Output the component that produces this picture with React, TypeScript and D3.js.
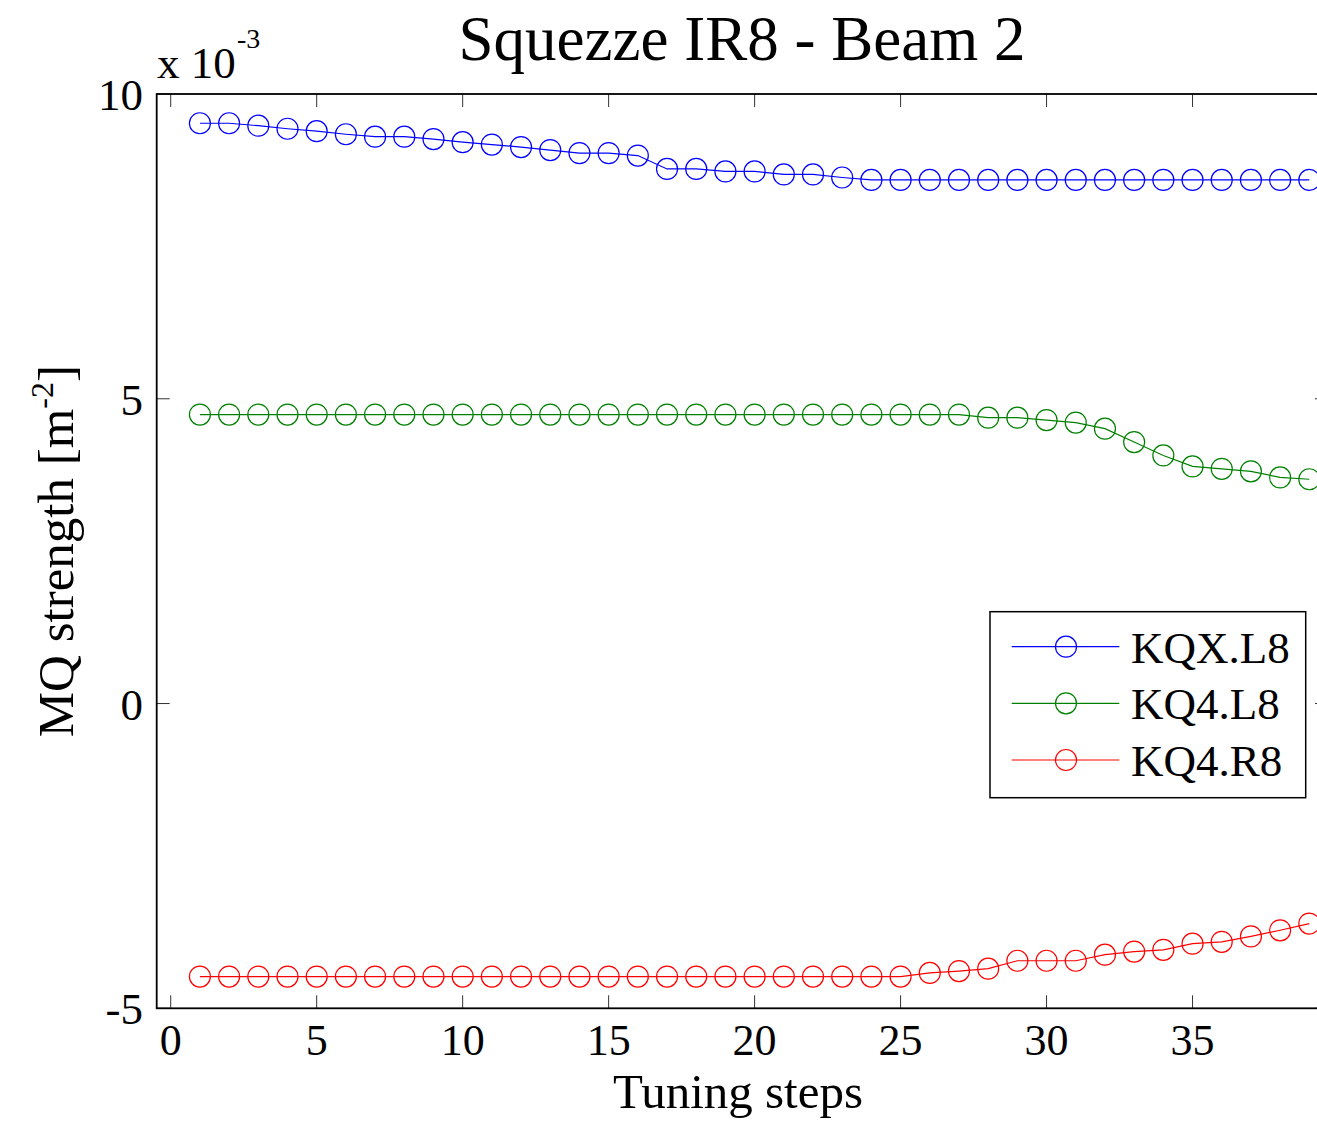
import React from "react";
import * as d3 from "d3";

const steps = [1,2,3,4,5,6,7,8,9,10,11,12,13,14,15,16,17,18,19,20,21,22,23,24,25,26,27,28,29,30,31,32,33,34,35,36,37,38,39];
const kqxL8 = [9.52,9.52,9.48,9.43,9.39,9.34,9.30,9.30,9.26,9.21,9.17,9.13,9.08,9.03,9.03,8.99,8.77,8.77,8.73,8.73,8.68,8.68,8.63,8.59,8.59,8.59,8.59,8.59,8.59,8.59,8.59,8.59,8.59,8.59,8.59,8.59,8.59,8.59,8.59];
const kq4L8 = [4.74,4.74,4.74,4.74,4.74,4.74,4.74,4.74,4.74,4.74,4.74,4.74,4.74,4.74,4.74,4.74,4.74,4.74,4.74,4.74,4.74,4.74,4.74,4.74,4.74,4.74,4.74,4.69,4.69,4.65,4.61,4.51,4.29,4.07,3.89,3.85,3.81,3.71,3.68];
const kq4R8 = [-4.48,-4.48,-4.48,-4.48,-4.48,-4.48,-4.48,-4.48,-4.48,-4.48,-4.48,-4.48,-4.48,-4.48,-4.48,-4.48,-4.48,-4.48,-4.48,-4.48,-4.48,-4.48,-4.48,-4.48,-4.48,-4.42,-4.39,-4.35,-4.22,-4.22,-4.22,-4.12,-4.07,-4.04,-3.94,-3.91,-3.82,-3.72,-3.61];
const seriesNames = ["KQX.L8", "KQ4.L8", "KQ4.R8"];
const seriesColors = ["#0000ff", "#008000", "#ff0000"];
const xTicks = [0, 5, 10, 15, 20, 25, 30, 35];
const yTicks = [-5, 0, 5, 10];

const W = 1317, H = 1124;
const L = 156.7, T = 94, R = 1328, B = 1008.3;
const FONT = "'Liberation Serif', 'Times New Roman', serif";

export default function App() {
  const x = d3.scaleLinear().domain([-0.48, 39.64]).range([L, R]);
  const y = d3.scaleLinear().domain([-5, 10]).range([B, T]);
  const allSeries = [kqxL8, kq4L8, kq4R8];
  const line = d3.line<number>().x((_, i) => x(steps[i])).y((d) => y(d));
  const tickLen = 13;
  const legX = 990, legY = 611.7, legW = 315.7, legH = 186;
  const legRows = [646.7, 703.3, 760];

  return (
    <svg width={W} height={H} style={{ position: "absolute", left: 0, top: 0, background: "#fff" }} fontFamily={FONT}>
      <rect x={0} y={0} width={W} height={H} fill="#fff" />
      <defs>
        <clipPath id="plotclip">
          <rect x={L} y={T} width={R - L} height={B - T} />
        </clipPath>
      </defs>
      {/* ticks */}
      {xTicks.map((t) => (
        <g key={"xt" + t}>
          <line x1={x(t)} x2={x(t)} y1={B} y2={B - tickLen} stroke="#333" strokeWidth={1} />
          <line x1={x(t)} x2={x(t)} y1={T} y2={T + tickLen} stroke="#333" strokeWidth={1} />
          <text x={x(t)} y={1055} fontSize={44} textAnchor="middle" fill="#000">{t}</text>
        </g>
      ))}
      {yTicks.map((t) => (
        <g key={"yt" + t}>
          <line x1={L} x2={L + tickLen} y1={y(t)} y2={y(t)} stroke="#333" strokeWidth={1} />
          <line x1={R} x2={R - tickLen} y1={y(t)} y2={y(t)} stroke="#333" strokeWidth={1} />
          <text x={143} y={y(t) + 16} fontSize={45} textAnchor="end" fill="#000">{t}</text>
        </g>
      ))}
      {/* data */}
      <g clipPath="url(#plotclip)">
        {allSeries.map((s, si) => (
          <g key={"s" + si}>
            <path d={line(s) || ""} fill="none" stroke={seriesColors[si]} strokeWidth={1.2} />
            {s.map((v, i) => (
              <circle key={i} cx={x(steps[i])} cy={y(v)} r={10.5} fill="none" stroke={seriesColors[si]} strokeWidth={1.2} />
            ))}
          </g>
        ))}
      </g>
      {/* axes box */}
      <rect x={L} y={T} width={R - L} height={B - T} fill="none" stroke="#000" strokeWidth={1.8} />
      {/* exponent */}
      <text x={157} y={78} fontSize={45} fill="#000">x 10</text>
      <text x={237} y={48} fontSize={28} fill="#000">-3</text>
      {/* title */}
      <text x={742} y={60} fontSize={63} textAnchor="middle" fill="#000">Squezze IR8 - Beam 2</text>
      {/* x label */}
      <text x={738} y={1108} fontSize={49} textAnchor="middle" fill="#000">Tuning steps</text>
      {/* y label */}
      <text transform={`translate(73, ${(T + B) / 2}) rotate(-90)`} fontSize={51} textAnchor="middle" fill="#000">
        MQ strength [m<tspan dy={-20} fontSize={32}>-2</tspan><tspan dy={20}>]</tspan>
      </text>
      {/* legend */}
      <rect x={legX} y={legY} width={legW} height={legH} fill="#fff" stroke="#000" strokeWidth={1.5} />
      {seriesNames.map((n, i) => (
        <g key={"lg" + i}>
          <line x1={1011.7} x2={1119.3} y1={legRows[i]} y2={legRows[i]} stroke={seriesColors[i]} strokeWidth={1.2} />
          <circle cx={1066} cy={legRows[i]} r={10.5} fill="none" stroke={seriesColors[i]} strokeWidth={1.2} />
          <text x={1131} y={legRows[i] + 16} fontSize={45} fill="#000">{n}</text>
        </g>
      ))}
    </svg>
  );
}
